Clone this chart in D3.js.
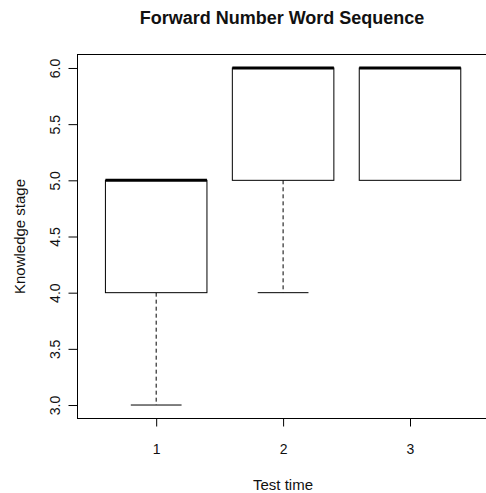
<!DOCTYPE html>
<html>
<head>
<meta charset="utf-8">
<script src="https://cdn.jsdelivr.net/npm/d3@7"></script>
<style>
  body { margin: 0; background: #fff; }
  text { font-family: "Liberation Sans", Arial, sans-serif; fill: #111; }
</style>
</head>
<body>
<svg id="chart"></svg>
<script>
// boxplot stats per test time
const groups = ["1", "2", "3"];
const lowerWhisker = [3, 4, 5];
const q1 = [4, 5, 5];
const medians = [5, 6, 6];
const q3 = [5, 6, 6];
const upperWhisker = [5, 6, 6];
const yTicks = [3.0, 3.5, 4.0, 4.5, 5.0, 5.5, 6.0];

const width = 486;
const height = 493;

const svg = d3.select("#chart").attr("width", width).attr("height", height);

// R style: range padded by 4% on each side
const x = d3.scaleLinear().domain([0.38, 3.62]).range([77.5, 488.7]);
const y = d3.scaleLinear().domain([2.88, 6.12]).range([418.5, 54.5]);

const boxW = 0.8;
const capW = 0.4;

const data = groups.map((g, i) => ({
  pos: i + 1,
  lo: lowerWhisker[i],
  q1: q1[i],
  med: medians[i],
  q3: q3[i],
  hi: upperWhisker[i]
}));

const g = svg.append("g");

// whiskers (dashed) + staples
data.forEach((d) => {
  if (d.lo < d.q1) {
    g.append("line")
      .attr("x1", x(d.pos)).attr("x2", x(d.pos))
      .attr("y1", y(d.q1)).attr("y2", y(d.lo))
      .attr("stroke", "#000").attr("stroke-dasharray", "4,3");
    g.append("line")
      .attr("x1", x(d.pos - capW / 2)).attr("x2", x(d.pos + capW / 2))
      .attr("y1", y(d.lo)).attr("y2", y(d.lo))
      .attr("stroke", "#000");
  }
  if (d.hi > d.q3) {
    g.append("line")
      .attr("x1", x(d.pos)).attr("x2", x(d.pos))
      .attr("y1", y(d.q3)).attr("y2", y(d.hi))
      .attr("stroke", "#000").attr("stroke-dasharray", "4,3");
    g.append("line")
      .attr("x1", x(d.pos - capW / 2)).attr("x2", x(d.pos + capW / 2))
      .attr("y1", y(d.hi)).attr("y2", y(d.hi))
      .attr("stroke", "#000");
  }
});

// boxes
g.selectAll("rect.box")
  .data(data)
  .enter()
  .append("rect")
  .attr("class", "box")
  .attr("x", (d) => x(d.pos - boxW / 2))
  .attr("width", (d) => x(d.pos + boxW / 2) - x(d.pos - boxW / 2))
  .attr("y", (d) => y(d.q3))
  .attr("height", (d) => y(d.q1) - y(d.q3))
  .attr("fill", "#fff")
  .attr("stroke", "#000");

// medians
g.selectAll("line.med")
  .data(data)
  .enter()
  .append("line")
  .attr("class", "med")
  .attr("x1", (d) => x(d.pos - boxW / 2))
  .attr("x2", (d) => x(d.pos + boxW / 2))
  .attr("y1", (d) => y(d.med))
  .attr("y2", (d) => y(d.med))
  .attr("stroke", "#000")
  .attr("stroke-width", 3);

// frame
svg.append("rect")
  .attr("x", x.range()[0])
  .attr("y", y.range()[1])
  .attr("width", x.range()[1] - x.range()[0])
  .attr("height", y.range()[0] - y.range()[1])
  .attr("fill", "none")
  .attr("stroke", "#000");

// x axis
const xAxis = svg.append("g")
  .attr("transform", `translate(0, ${y.range()[0]})`)
  .call(d3.axisBottom(x).tickValues(data.map((d) => d.pos))
    .tickFormat((d, i) => groups[i]).tickSize(8));
xAxis.select(".domain").remove();
xAxis.selectAll("text")
  .style("font-size", "14px")
  .attr("y", 35)
  .attr("dy", null);

// y axis with rotated labels
const yAxis = svg.append("g")
  .attr("transform", `translate(${x.range()[0]}, 0)`)
  .call(d3.axisLeft(y).tickValues(yTicks).tickFormat(d3.format(".1f")).tickSize(9));
yAxis.select(".domain").remove();
yAxis.selectAll("text")
  .style("font-size", "14px")
  .attr("x", null)
  .attr("dy", null)
  .attr("text-anchor", "middle")
  .attr("transform", "translate(-18, 0) rotate(-90)");

// titles
svg.append("text")
  .attr("x", 282)
  .attr("y", 24)
  .attr("text-anchor", "middle")
  .style("font-size", "18px")
  .style("font-weight", "bold")
  .text("Forward Number Word Sequence");

svg.append("text")
  .attr("x", 283)
  .attr("y", 490)
  .attr("text-anchor", "middle")
  .style("font-size", "15px")
  .text("Test time");

svg.append("text")
  .attr("transform", `translate(25, ${y(4.5)}) rotate(-90)`)
  .attr("text-anchor", "middle")
  .style("font-size", "15px")
  .text("Knowledge stage");
</script>
</body>
</html>
